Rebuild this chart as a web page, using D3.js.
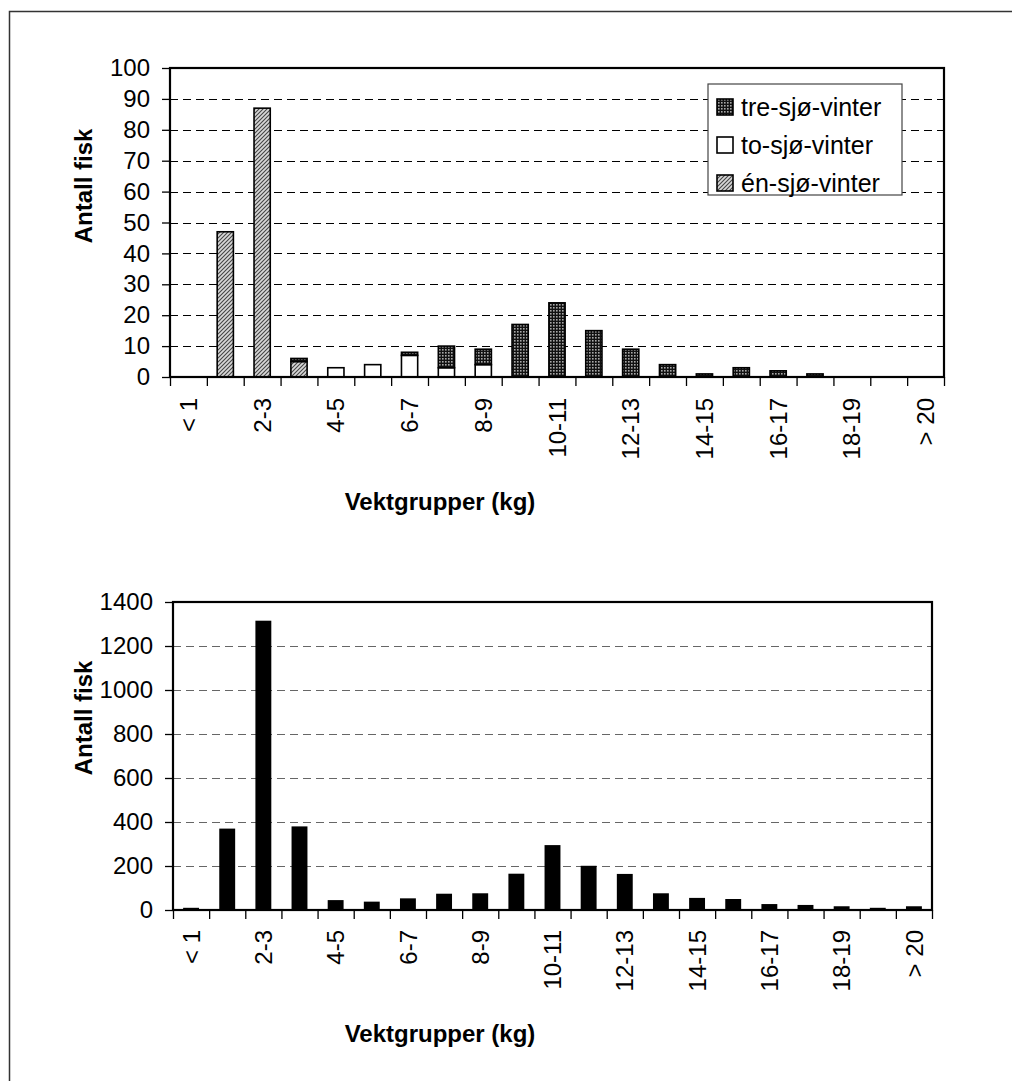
<!DOCTYPE html>
<html>
<head>
<meta charset="utf-8">
<title>Vektgrupper</title>
<script src="https://cdn.jsdelivr.net/npm/d3@7"></script>
<style>
    body { margin: 0; background: #fff; }
    svg { display: block; font-family: Arial, 'Liberation Sans', sans-serif; }
</style>
</head>
<body>
<div id="chart"></div>
<script>
// Weight groups (kg)
const categories = ['< 1', '1-2', '2-3', '3-4', '4-5', '5-6', '6-7', '7-8', '8-9', '9-10',
    '10-11', '11-12', '12-13', '13-14', '14-15', '15-16', '16-17', '17-18', '18-19', '19-20', '> 20'];

// Top chart: fish by sea age
const enSjo = [0, 47, 87, 5, 0, 0, 0, 0, 0, 0, 0, 0, 0, 0, 0, 0, 0, 0, 0, 0, 0];
const toSjo = [0, 0, 0, 0, 3, 4, 7, 3, 4, 0, 0, 0, 0, 0, 0, 0, 0, 0, 0, 0, 0];
const treSjo = [0, 0, 0, 1, 0, 0, 1, 7, 5, 17, 24, 15, 9, 4, 1, 3, 2, 1, 0, 0, 0];
const seriesNames = ['én-sjø-vinter', 'to-sjø-vinter', 'tre-sjø-vinter'];
const topTicks = [0, 10, 20, 30, 40, 50, 60, 70, 80, 90, 100];

// Bottom chart: all fish
const totalFish = [10, 370, 1315, 380, 45, 38, 53, 74, 76, 165, 295, 201, 164, 76, 55, 50, 27, 23, 17, 10, 17];
const bottomTicks = [0, 200, 400, 600, 800, 1000, 1200, 1400];

const yTitle = 'Antall fisk';
const xTitle = 'Vektgrupper (kg)';

let svg;
const width = 1012;
const height = 1081;
const fontSize = 24;

function setupPatterns(defs) {
    // dark dotted fill (tre-sjø-vinter)
    const dots = defs.append('pattern')
        .attr('id', 'pat-tre')
        .attr('patternUnits', 'userSpaceOnUse')
        .attr('width', 3).attr('height', 3);
    dots.append('rect').attr('width', 3).attr('height', 3).attr('fill', '#111');
    dots.append('rect').attr('x', 1).attr('y', 1).attr('width', 1.6).attr('height', 1.6).attr('fill', '#a8a8a8');

    // diagonal hatch (én-sjø-vinter)
    const hatch = defs.append('pattern')
        .attr('id', 'pat-en')
        .attr('patternUnits', 'userSpaceOnUse')
        .attr('width', 4).attr('height', 4);
    hatch.append('rect').attr('width', 4).attr('height', 4).attr('fill', '#d8d8d8');
    hatch.append('path')
        .attr('d', 'M-1,1 l2,-2 M0,4 l4,-4 M3,5 l2,-2')
        .attr('stroke', '#444')
        .attr('stroke-width', 1.1);
}

function drawFrame() {
    svg.append('path')
        .attr('d', `M${width},11.5 H9.5 V${height}`)
        .attr('fill', 'none')
        .attr('stroke', '#333')
        .attr('stroke-width', 1.5);
}

// Shared axes, grid, border and titles for one panel
function drawPanel(box, yScale, ticks, gridColor, titles) {
    const g = svg.append('g');
    const x = d3.scaleBand()
        .domain(categories)
        .range([box.left, box.right])
        .paddingInner(0.56)
        .paddingOuter(0.28);

    // dashed gridlines
    g.append('g')
        .selectAll('line')
        .data(ticks.slice(1, -1))
        .enter()
        .append('line')
        .attr('x1', box.left)
        .attr('x2', box.right)
        .attr('y1', d => Math.round(yScale(d)) + 0.5)
        .attr('y2', d => Math.round(yScale(d)) + 0.5)
        .attr('stroke', gridColor)
        .attr('stroke-width', 1.2)
        .attr('stroke-dasharray', '8,5');

    // y axis
    const yAxis = g.append('g')
        .attr('transform', `translate(${box.left},0)`)
        .call(d3.axisLeft(yScale).tickValues(ticks).tickSize(8).tickPadding(12).tickFormat(d3.format('d')));
    yAxis.select('.domain').remove();
    yAxis.selectAll('line').attr('stroke', '#000').attr('stroke-width', 1.3);
    yAxis.selectAll('text')
        .attr('font-size', fontSize)
        .attr('font-family', 'Arial, Liberation Sans, sans-serif')
        .attr('fill', '#000');

    // x axis tick marks at category boundaries
    const boundary = d3.scaleLinear().domain([0, categories.length]).range([box.left, box.right]);
    const xTicks = g.append('g')
        .attr('transform', `translate(0,${box.bottom})`)
        .call(d3.axisBottom(boundary).tickValues(d3.range(categories.length + 1)).tickSize(9).tickFormat(''));
    xTicks.select('.domain').remove();
    xTicks.selectAll('line').attr('stroke', '#000').attr('stroke-width', 1.3);

    // x axis labels, every other category, rotated
    const xLabels = g.append('g')
        .attr('transform', `translate(0,${box.bottom})`)
        .call(d3.axisBottom(x).tickValues(categories.filter((d, i) => i % 2 === 0)).tickSize(0));
    xLabels.select('.domain').remove();
    xLabels.selectAll('text')
        .attr('transform', 'rotate(-90)')
        .attr('text-anchor', 'end')
        .attr('x', -box.labelGap)
        .attr('y', 0)
        .attr('dy', '0.36em')
        .attr('font-size', fontSize)
        .attr('font-family', 'Arial, Liberation Sans, sans-serif')
        .attr('fill', '#000');

    // axis titles
    svg.append('text')
        .attr('transform', `translate(${titles.yX},${titles.yY}) rotate(-90)`)
        .attr('text-anchor', 'middle')
        .attr('dy', '0.36em')
        .attr('font-size', fontSize)
        .attr('font-weight', 'bold')
        .text(yTitle);
    svg.append('text')
        .attr('x', titles.xX)
        .attr('y', titles.xY)
        .attr('text-anchor', 'middle')
        .attr('dy', '0.36em')
        .attr('font-size', fontSize)
        .attr('font-weight', 'bold')
        .text(xTitle);

    return { g, x };
}

function drawBorder(box) {
    svg.append('rect')
        .attr('x', box.left)
        .attr('y', box.top)
        .attr('width', box.right - box.left)
        .attr('height', box.bottom - box.top)
        .attr('fill', 'none')
        .attr('stroke', '#000')
        .attr('stroke-width', 2.2);
}

function drawTopChart() {
    const box = { left: 170, right: 944, top: 68, bottom: 377, labelGap: 21 };
    const y = d3.scaleLinear().domain([0, 100]).range([box.bottom, box.top]);
    const { g, x } = drawPanel(box, y, topTicks, '#000', { yX: 83, yY: 186, xX: 440, xY: 501 });

    const rows = categories.map((c, i) => ({
        cat: c,
        'én-sjø-vinter': enSjo[i],
        'to-sjø-vinter': toSjo[i],
        'tre-sjø-vinter': treSjo[i]
    }));
    const stacked = d3.stack().keys(seriesNames)(rows);
    const fills = { 'én-sjø-vinter': 'url(#pat-en)', 'to-sjø-vinter': '#fff', 'tre-sjø-vinter': 'url(#pat-tre)' };

    g.selectAll('.series')
        .data(stacked)
        .enter()
        .append('g')
        .attr('class', 'series')
        .attr('fill', d => fills[d.key])
        .selectAll('rect')
        .data(d => d.filter(s => s[1] - s[0] > 0))
        .enter()
        .append('rect')
        .attr('x', d => x(d.data.cat))
        .attr('y', d => y(d[1]))
        .attr('width', x.bandwidth())
        .attr('height', d => y(d[0]) - y(d[1]))
        .attr('stroke', '#000')
        .attr('stroke-width', 1.6);

    drawBorder(box);

    // legend
    const legend = svg.append('g').attr('transform', 'translate(708,84)');
    legend.append('rect')
        .attr('width', 194)
        .attr('height', 111)
        .attr('fill', '#fff')
        .attr('stroke', '#444')
        .attr('stroke-width', 1.2);
    const items = legend.selectAll('.item')
        .data(seriesNames.slice().reverse())
        .enter()
        .append('g')
        .attr('class', 'item')
        .attr('transform', (d, i) => `translate(9,${23 + i * 38})`);
    items.append('rect')
        .attr('x', 0)
        .attr('y', -8)
        .attr('width', 16)
        .attr('height', 16)
        .attr('fill', d => fills[d])
        .attr('stroke', '#000')
        .attr('stroke-width', 1.6);
    items.append('text')
        .attr('x', 24)
        .attr('dy', '0.36em')
        .attr('font-size', 25)
        .text(d => d);
}

function drawBottomChart() {
    const box = { left: 173, right: 932, top: 602, bottom: 910, labelGap: 20 };
    const y = d3.scaleLinear().domain([0, 1400]).range([box.bottom, box.top]);
    const { g, x } = drawPanel(box, y, bottomTicks, '#666', { yX: 83, yY: 718, xX: 440, xY: 1033 });

    g.selectAll('.bar')
        .data(totalFish)
        .enter()
        .append('rect')
        .attr('class', 'bar')
        .attr('x', (d, i) => x(categories[i]))
        .attr('y', d => y(d))
        .attr('width', x.bandwidth())
        .attr('height', d => y(0) - y(d))
        .attr('fill', '#000');

    drawBorder(box);
}

function initializeChart() {
    svg = d3.select('#chart')
        .append('svg')
        .attr('width', width)
        .attr('height', height);
    svg.append('rect').attr('width', width).attr('height', height).attr('fill', '#fff');
    setupPatterns(svg.append('defs'));
    drawFrame();
    drawTopChart();
    drawBottomChart();
}

document.addEventListener('DOMContentLoaded', initializeChart);
</script>
</body>
</html>
